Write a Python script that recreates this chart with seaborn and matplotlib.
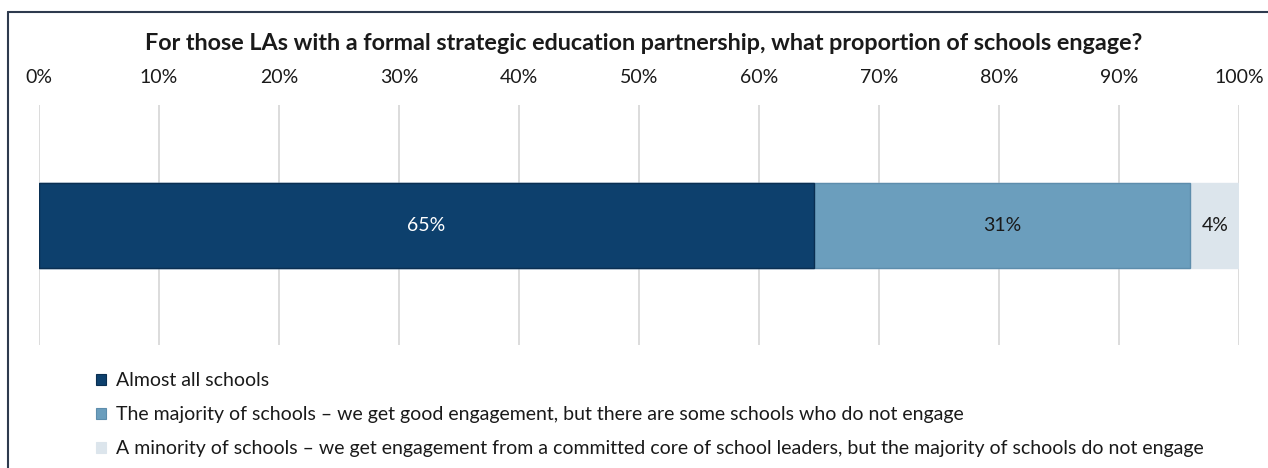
import matplotlib
matplotlib.use("Agg")
import matplotlib.pyplot as plt
import matplotlib.patches as mpatches
import seaborn as sns
import numpy as np
import pandas as pd

categories = [
    "Almost all schools",
    "The majority of schools \u2013 we get good engagement, but there are some schools who do not engage",
    "A minority of schools \u2013 we get engagement from a committed core of school leaders, but the majority of schools do not engage",
]
values = [64.6, 31.3, 4.2]
value_labels = ["65%", "31%", "4%"]
colors = ["#0d406d", "#6b9ebd", "#dce5ec"]
edge_colors = ["#0a2f52", "#5d8dac", "#dce5ec"]
label_colors = ["white", "#1a1a1a", "#1a1a1a"]
tick_values = [0, 10, 20, 30, 40, 50, 60, 70, 80, 90, 100]
tick_labels = [f"{t}%" for t in tick_values]
title = "For those LAs with a formal strategic education partnership, what proportion of schools engage?"

sns.set_theme(style="white")
plt.rcParams["font.family"] = ["Lato", "DejaVu Sans"]

fig = plt.figure(figsize=(12.68, 4.68), dpi=100)
ax = fig.add_axes([39 / 1268, 1 - 345 / 468, 1200 / 1268, 240 / 468])

cum = np.cumsum(values)
df = pd.DataFrame({"row": ["r"] * len(values), "cum": cum, "cat": categories})
# draw from the largest cumulative to smallest so they stack visually
for i in reversed(range(len(values))):
    sns.barplot(data=df.iloc[[i]], x="cum", y="row", orient="h", color=colors[i],
                width=85 / 240, ax=ax, edgecolor=edge_colors[i], linewidth=1.0,
                saturation=1, zorder=3)

starts = np.concatenate([[0], cum[:-1]])
for i, v in enumerate(values):
    ax.text(starts[i] + v / 2, 0, value_labels[i], ha="center", va="center",
            color=label_colors[i], fontsize=14, zorder=5)

ax.set_xlim(0, 100)
ax.set_ylim(0.5, -0.5)
ax.set_xticks(tick_values)
ax.set_xticklabels(tick_labels, fontsize=14, color="#1a1a1a")
ax.xaxis.tick_top()
ax.tick_params(axis="x", length=0, pad=14)
ax.set_yticks([])
ax.set_xlabel("")
ax.set_ylabel("")
ax.grid(axis="x", color="#d9d9d9", linewidth=1.3, zorder=0)
ax.set_axisbelow(True)
for s in ax.spines.values():
    s.set_visible(False)

fig.text(644 / 1268, 1 - 44 / 468, title, ha="center", va="center",
         fontsize=16.8, fontweight="bold", color="#1a1a1a")

handles = [mpatches.Patch(facecolor=colors[i], edgecolor=edge_colors[i], linewidth=0.8,
                          label=categories[i]) for i in range(len(categories))]
leg = fig.legend(handles=handles, loc="upper left", bbox_to_anchor=(96 / 1268, 1 - 372 / 468),
                 frameon=False, fontsize=14, handlelength=0.5, handleheight=0.5,
                 handletextpad=0.55, labelspacing=0.88, borderaxespad=0, borderpad=0)
for t in leg.get_texts():
    t.set_color("#1a1a1a")

# outer border (top, left, right)
fig.add_artist(plt.Line2D([8 / 1268, 8 / 1268], [0, 1 - 12 / 468], color="#2e3a4e", linewidth=1.5,
                          transform=fig.transFigure))
fig.add_artist(plt.Line2D([8 / 1268, 1], [1 - 12 / 468, 1 - 12 / 468], color="#2e3a4e", linewidth=1.5,
                          transform=fig.transFigure))

fig.savefig("out.png", dpi=100)
